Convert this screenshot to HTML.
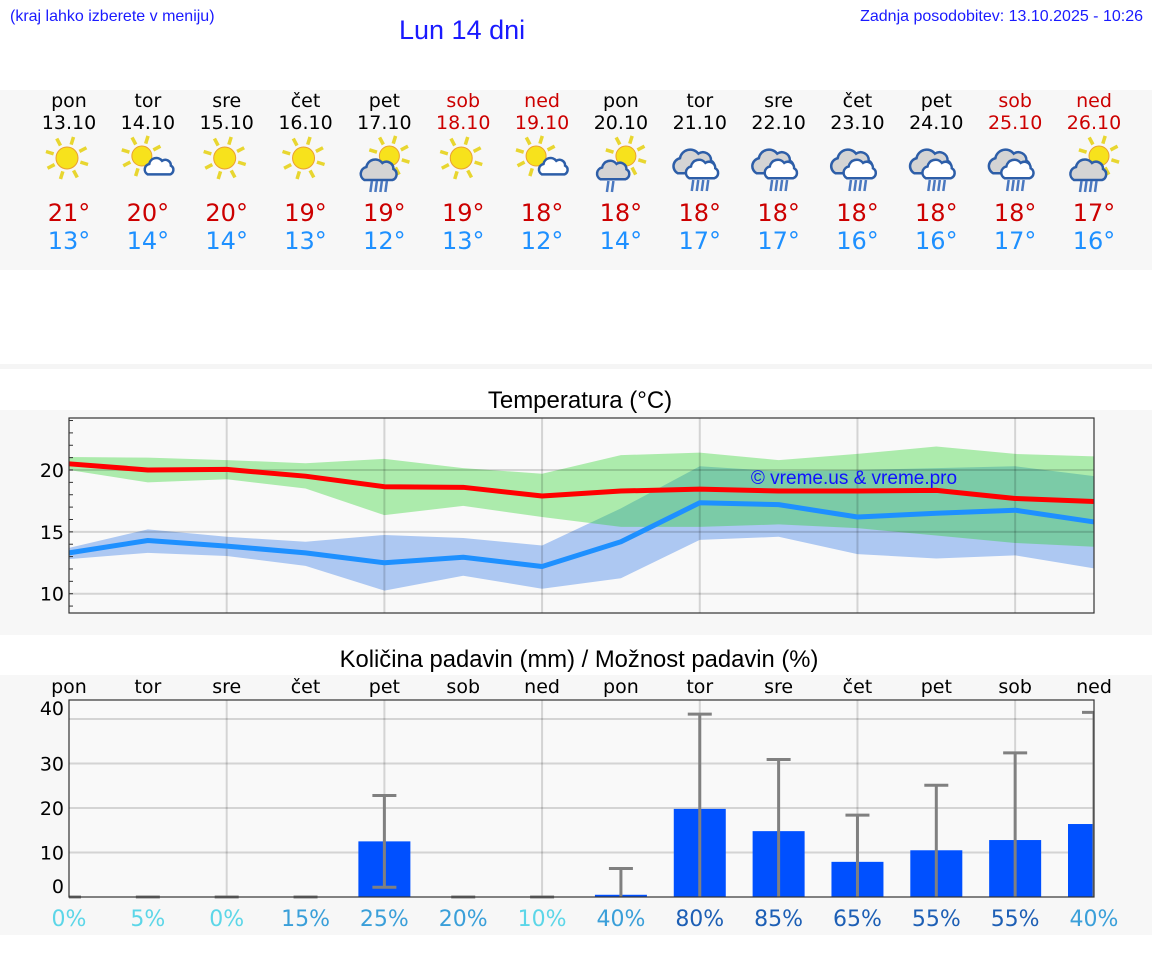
<!DOCTYPE html>
<html><head><meta charset="utf-8">
<style>
html,body{margin:0;padding:0;background:#fff;width:1152px;height:975px;overflow:hidden}
svg{display:block}
.lib{font-family:"Liberation Sans",sans-serif}
.dj{font-family:"DejaVu Sans","Liberation Sans",sans-serif}
</style></head>
<body>
<svg id="root" width="1152" height="975" viewBox="0 0 1152 975" xmlns="http://www.w3.org/2000/svg">
  <text x="10" y="21" class="lib" font-size="16" fill="#1a1aff">(kraj lahko izberete v meniju)</text>
  <text x="399" y="39" class="lib" font-size="27" fill="#1a1aff">Lun 14 dni</text>
  <text x="1143" y="21" text-anchor="end" class="lib" font-size="16" fill="#1a1aff">Zadnja posodobitev: 13.10.2025 - 10:26</text>
  <rect x="0" y="90" width="1152" height="180" fill="#f7f7f7"/>
  <rect x="0" y="364" width="1152" height="5" fill="#f5f5f5"/>
  <rect x="0" y="410" width="1152" height="225" fill="#f7f7f7"/>
  <text x="580" y="408" text-anchor="middle" class="lib" font-size="24" fill="#000">Temperatura (°C)</text>
  <rect x="0" y="675" width="1152" height="260" fill="#f7f7f7"/>
  <text x="579" y="667" text-anchor="middle" class="lib" font-size="23.8" fill="#000">Količina padavin (mm) / Možnost padavin (%)</text>
  <g id="daily"></g>
  <g id="temp"></g>
  <g id="precip"></g>
</svg>
<script>
const days = ["pon","tor","sre","čet","pet","sob","ned","pon","tor","sre","čet","pet","sob","ned"];
const dates = ["13.10","14.10","15.10","16.10","17.10","18.10","19.10","20.10","21.10","22.10","23.10","24.10","25.10","26.10"];
const weekend = [0,0,0,0,0,1,1,0,0,0,0,0,1,1];
const icons = ["sun","suncloud","sun","sun","sunrain","sun","suncloud","sunrainsmall","rain","rain","rain","rain","rain","sunrain"];
const maxT = [21,20,20,19,19,19,18,18,18,18,18,18,18,17];
const minT = [13,14,14,13,12,13,12,14,17,17,16,16,17,16];

const tMax = [20.5,20.0,20.05,19.5,18.65,18.6,17.9,18.3,18.45,18.3,18.3,18.35,17.7,17.45];
const tMaxHi = [21.05,21.0,20.8,20.55,20.9,20.15,19.7,21.2,21.4,20.8,21.3,21.9,21.3,21.1];
const tMaxLo = [20.0,19.0,19.25,18.5,16.35,17.1,16.2,15.4,15.4,15.6,15.3,14.7,14.1,13.8];
const tMin = [13.3,14.3,13.85,13.3,12.5,12.95,12.2,14.2,17.35,17.2,16.2,16.5,16.75,15.8];
const tMinHi = [13.7,15.2,14.6,14.2,14.75,14.5,13.9,16.9,20.3,19.9,20.0,20.15,20.3,19.5];
const tMinLo = [12.8,13.3,13.05,12.25,10.25,11.45,10.4,11.25,14.35,14.6,13.2,12.85,13.1,12.05];
const tTicks = [10,15,20];

const rain = [0,0,0,0,12.5,0,0,0.5,19.8,14.8,7.9,10.5,12.8,16.4];
const rainHi = [0,0,0,0,22.8,0,0,6.4,41.1,30.9,18.4,25.1,32.4,41.5];
const rainLo = [0,0,0,0,2.2,0,0,0,0,0,0,0,0,0];
const chance = [0,5,0,15,25,20,10,40,80,85,65,55,55,40];
const pTicks = [0,10,20,30,40];

const NS="http://www.w3.org/2000/svg";
const X0=69, X1=1094;
function xAt(i){return X0 + i*(X1-X0)/(days.length-1);}
function tY(v){return 470 - (v-20)*12.37;}
function pY(v){return 897 - v*4.45;}
function mk(tag, parent, attrs){const e=document.createElementNS(NS,tag);for(const k in attrs)e.setAttribute(k,attrs[k]);parent.appendChild(e);return e;}

const daily=document.getElementById('daily');
function sunShape(g,cx,cy,r){
  for(let k=0;k<8;k++){const a=k*Math.PI/4+0.3;
    mk('line',g,{x1:cx+Math.cos(a)*(r+3),y1:cy+Math.sin(a)*(r+3),x2:cx+Math.cos(a)*(r+11),y2:cy+Math.sin(a)*(r+11),stroke:'#e8d630','stroke-width':3.5});}
  mk('circle',g,{cx:cx,cy:cy,r:r,fill:'#f7e21c',stroke:'#eaa030','stroke-width':1});
}
function cloudShape(g,cx,cy,s,fill){
  const d=`M${cx-14*s},${cy+8*s} a${7*s},${7*s} 0 0 1 ${2*s},${-13*s} a${9*s},${9*s} 0 0 1 ${16*s},${-4*s} a${7*s},${7*s} 0 0 1 ${11*s},${6*s} a${6*s},${6*s} 0 0 1 ${-1*s},${11*s} z`;
  mk('path',g,{d:d,fill:fill,stroke:'#2d5ea8','stroke-width':2.5});
}
function rainShape(g,cx,cy,n){
  for(let k=0;k<n;k++) mk('line',g,{x1:cx-6+k*5+1.5,y1:cy,x2:cx-6+k*5,y2:cy+11,stroke:'#4a78c0','stroke-width':2.5});
}
days.forEach((d,i)=>{
  const x=xAt(i), col=weekend[i]?'#cc0000':'#000';
  const t1=mk('text',daily,{x:x,y:107,'text-anchor':'middle','font-size':19,fill:col,class:'dj'});t1.textContent=d;
  
  
  const t2=mk('text',daily,{x:x,y:129,'text-anchor':'middle','font-size':19,fill:col,class:'dj'});t2.textContent=dates[i];
  
  
  const g=mk('g',daily,{});
  
  
  const ic=icons[i], cx=x-2, cy=158;
  if(ic==='sun'){sunShape(g,cx,cy,11);}
  else if(ic==='suncloud'){sunShape(g,cx-4,cy-2,10);cloudShape(g,cx+13,cy+10,0.8,'#fff');}
  else if(ic==='sunrain'){sunShape(g,cx+7,cy-2,10);cloudShape(g,cx-4,cy+14,1.0,'#d4d4d4');rainShape(g,cx-6,cy+23,4);}
  else if(ic==='sunrainsmall'){sunShape(g,cx+7,cy-2,10);cloudShape(g,cx-6,cy+14,0.9,'#d4d4d4');rainShape(g,cx-6,cy+23,2);}
  else {cloudShape(g,cx-4,cy+6,1.15,'#d4d4d4');cloudShape(g,cx+4,cy+13,0.9,'#fff');rainShape(g,cx,cy+22,4);}
  const t3=mk('text',daily,{x:x,y:221,'text-anchor':'middle','font-size':24,fill:'#cc0000',class:'dj'});t3.textContent=maxT[i]+'°';
  
  
  const t4=mk('text',daily,{x:x,y:249,'text-anchor':'middle','font-size':24,fill:'#1e90ff',class:'dj'});t4.textContent=minT[i]+'°';
  
  
});

const tg=document.getElementById('temp');
const tbg=mk('rect',tg,{x:X0,y:418,width:X1-X0,height:195,fill:'#f9f9f9'});


function band(hi,lo){let p=hi.map((v,i)=>xAt(i)+','+tY(v));for(let i=lo.length-1;i>=0;i--)p.push(xAt(i)+','+tY(lo[i]));return p.join(' ');}
const bb=mk('polygon',tg,{points:band(tMinHi,tMinLo),fill:'#adc8f2'});


const gb=mk('polygon',tg,{points:band(tMaxHi,tMaxLo),fill:'rgb(35,209,35)','fill-opacity':0.355});


tTicks.forEach(v=>{
  const l=mk('line',tg,{x1:X0,x2:X1,y1:tY(v),y2:tY(v),stroke:'rgba(0,0,0,0.15)','stroke-width':2});
  
  
  const t=mk('text',tg,{x:64,y:tY(v)+7,'text-anchor':'end','font-size':19,class:'dj',fill:'#000'});t.textContent=v;
  
  
});
for(let v=9;v<=24;v++){const tk=mk('line',tg,{x1:X0,x2:X0+4,y1:tY(v),y2:tY(v),stroke:'#333','stroke-width':1});
  
  }
for(let i=2;i<days.length-1;i+=2){const l=mk('line',tg,{x1:xAt(i),x2:xAt(i),y1:418,y2:613,stroke:'rgba(0,0,0,0.15)','stroke-width':2});
  
  }
const wm=mk('text',tg,{x:854,y:484,'text-anchor':'middle','font-size':19,class:'lib',fill:'#1010ff'});wm.textContent='© vreme.us & vreme.pro';


const rl=mk('polyline',tg,{points:tMax.map((v,i)=>xAt(i)+','+tY(v)).join(' '),fill:'none',stroke:'#ff0000','stroke-width':5,'stroke-linejoin':'round'});


const bl=mk('polyline',tg,{points:tMin.map((v,i)=>xAt(i)+','+tY(v)).join(' '),fill:'none',stroke:'#1e90ff','stroke-width':5,'stroke-linejoin':'round'});


const tb=mk('rect',tg,{x:X0,y:418,width:X1-X0,height:195,fill:'none',stroke:'#333','stroke-width':1.2});



const pg=document.getElementById('precip');
const pbg=mk('rect',pg,{x:X0,y:700,width:X1-X0,height:197,fill:'#f9f9f9'});


pTicks.forEach(v=>{
  if(v>0){const l=mk('line',pg,{x1:X0,x2:X1,y1:pY(v),y2:pY(v),stroke:'rgba(0,0,0,0.15)','stroke-width':2});
  
  }
  const off=(v===0||v===40)?-11:0;
  const t=mk('text',pg,{x:64,y:pY(v)+7+off,'text-anchor':'end','font-size':19,class:'dj',fill:'#000'});t.textContent=v;
  
  
});
for(let i=2;i<days.length-1;i+=2){const l=mk('line',pg,{x1:xAt(i),x2:xAt(i),y1:700,y2:897,stroke:'rgba(0,0,0,0.15)','stroke-width':2});
  
  }
const clip=mk('clipPath',pg,{id:'pclip'});mk('rect',clip,{x:X0,y:690,width:X1-X0,height:210});
const inner=mk('g',pg,{'clip-path':'url(#pclip)'});
days.forEach((d,i)=>{
  const x=xAt(i);
  const lab=mk('text',pg,{x:x,y:693,'text-anchor':'middle','font-size':19,class:'dj',fill:'#000'});lab.textContent=d;
  
  
  if(rain[i]>0){const b=mk('rect',inner,{x:x-26,y:pY(rain[i]),width:52,height:897-pY(rain[i]),fill:'#0050ff'});
    
    }
  const eb=mk('g',inner,{stroke:'#808080','stroke-width':3});
  
  
  if(rainHi[i]>0){mk('line',eb,{x1:x,x2:x,y1:pY(rainLo[i]),y2:pY(rainHi[i])});
    mk('line',eb,{x1:x-12,x2:x+12,y1:pY(rainHi[i]),y2:pY(rainHi[i])});}
  if(rainLo[i]>0||rainHi[i]===0) mk('line',eb,{x1:x-12,x2:x+12,y1:pY(rainLo[i]),y2:pY(rainLo[i])});
  const c=chance[i], col=c<=10?'#5cd6e8':(c<=40?'#3a9fd9':'#1d5fb5');
  const pt=mk('text',pg,{x:x,y:926,'text-anchor':'middle','font-size':22,class:'dj',fill:col});pt.textContent=c+'%';
  
  
});
const pf=mk('rect',pg,{x:X0,y:700,width:X1-X0,height:197,fill:'none',stroke:'#333','stroke-width':1.2});


</script>
</body></html>
